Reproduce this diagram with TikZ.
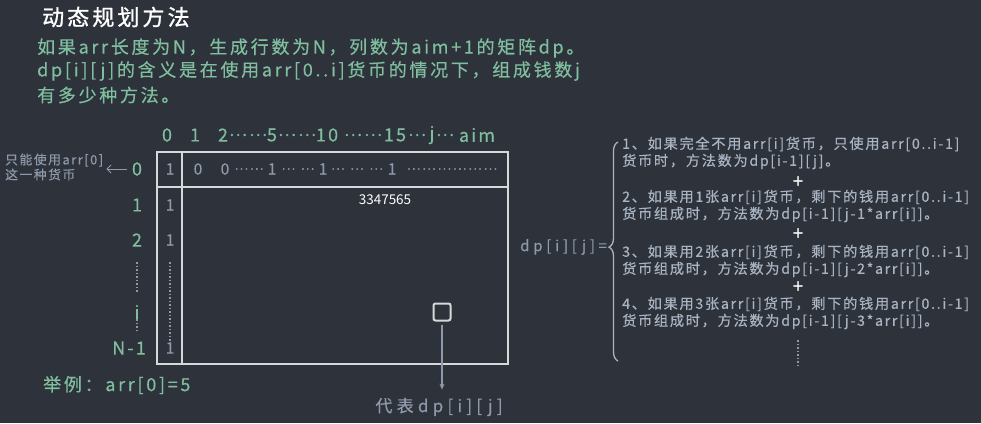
\documentclass[tikz,border=0pt]{standalone}
\usepackage{fontspec}
\usepackage{xcolor}
\usepackage{tikz}
\setmainfont{Noto Sans CJK SC}[LetterSpace=12, FakeBold=0.4]
\newfontfamily\titlefont{Noto Sans CJK SC}[LetterSpace=14, FakeBold=1.2]
\newfontfamily\parafont{Noto Sans CJK SC}[LetterSpace=15, FakeBold=0.4]
\newfontfamily\widefont{Noto Sans CJK SC}[LetterSpace=25, FakeBold=0.4]
\newfontfamily\plainfont{Noto Sans CJK SC}
\newcommand\el{{\fontsize{17}{17}\selectfont …}}
\newcommand\cel{{\fontsize{13}{13}\selectfont …}}
\definecolor{bgc}{HTML}{2E323A}
\definecolor{dpgreen}{HTML}{7FBE9F}
\definecolor{dpgray}{HTML}{8E9AAB}
\definecolor{ltgray}{HTML}{A9B4C3}
\definecolor{gridc}{HTML}{D6D8DA}
\usetikzlibrary{arrows.meta,positioning,calc,decorations.pathreplacing}

\begin{document}
\begin{tikzpicture}[x=1pt, y=-1pt,
    ttl/.style={text=white, font=\titlefont\fontsize{22}{26}\selectfont, inner sep=0pt, anchor=west},
    para/.style={text=dpgreen, font=\parafont\fontsize{18}{20}\selectfont, inner sep=0pt, anchor=west},
    idx/.style={text=dpgreen, font=\fontsize{18}{20}\selectfont, inner sep=0pt},
    cell/.style={text=dpgray, font=\fontsize{15.5}{18}\selectfont, inner sep=0pt},
    ruletext/.style={text=ltgray, font=\fontsize{14.2}{17}\selectfont, inner sep=0pt, anchor=west, align=left},
    plussign/.style={text=white, font=\titlefont\fontsize{18}{18}\selectfont, inner sep=0pt},
    vdots/.style={dpgray, line width=2pt, dash pattern=on 1.5pt off 2pt},
    grid/.style={gridc, line width=1.6pt}
]
    % Background
    \fill[bgc] (0,0) rectangle (981,423);
    \useasboundingbox (0,0) rectangle (981,423);

    % Title and text
    \node[ttl] (title) at (42,17) {动态规划方法};
    \node[para] (line1) at (37,48) {如果arr长度为N，生成行数为N，列数为aim+1的矩阵dp。};
    \node[para] (line2) at (37,71) {dp[i][j]的含义是在使用arr[0..i]货币的情况下，组成钱数j};
    \node[para] (line3) at (37,95) {有多少种方法。};

    % Column indices
    \foreach \hx/\htext in {167/0, 195/1, 223/2, 248/\el\el, 272/5, 297/\el\el, 327/10, 363/\el\el, 395/15, 417/\el, 432/j, 445/\el, 477/aim}
        \node[idx] (hd\hx) at (\hx,135) {\htext};

    % Matrix dp
    \draw[grid] (157,152) rectangle (508,364);
    \draw[grid] (157,187) -- (508,187);
    \draw[grid] (182,152) -- (182,364);

    % Row 0
    \node[cell] (c00) at (170,169) {1};
    \foreach \hx/\htext in {198/0, 225/0, 249/\cel\cel, 272/1, 298/\cel\ \cel, 323/1, 357/\cel\ \cel\ \cel, 392/1, 452/\cel\cel\cel\cel\cel\cel}
        \node[cell] (rz\hx) at (\hx,169) {\htext};

    % Column 0
    \node[cell] (c10) at (170,205) {1};
    \node[cell] (c20) at (170,240) {1};
    \node[cell] (cn0) at (170,348) {1};
    \draw[vdots] (170,262) -- (170,341);

    % Row indices
    \node[idx] (r0) at (137,169) {0};
    \node[idx] (r1) at (137,205) {1};
    \node[idx] (r2) at (137,240) {2};
    \node[idx] (ri) at (137,312) {i};
    \node[idx, anchor=east] (rn) at (146,348) {N-1};
    \draw[vdots] (137,262) -- (137,293);
    \draw[vdots] (137,319) -- (137,333);

    % Row 0 note
    \node[text=dpgray, font=\fontsize{12.8}{15}\selectfont, inner sep=0pt, anchor=west, align=left] (note) at (5,167) {只能使用arr[0]\\这一种货币};
    \draw[-{Straight Barb[length=4pt]}, dpgray, line width=1pt, shorten <=5pt, shorten >=3pt] (r0.west) -- (note.east |- r0.west);

    % Number in matrix
    \node[text=white, font=\plainfont\fontsize{13.5}{15}\selectfont, inner sep=0pt] (wm) at (385,200) {3347565};

    % Cell dp[i][j]
    \node[draw=gridc, line width=2pt, rounded corners=2pt, minimum size=17pt, inner sep=0pt] (sq) at (442,312) {};
    \node[text=dpgray, font=\widefont\fontsize{17}{20}\selectfont, inner sep=0pt] (rep) at (439,407) {代表dp[i][j]};
    \draw[-{Stealth[length=6pt, width=5pt]}, dpgray, line width=1.2pt, shorten <=3pt, shorten >=8pt] (sq.south) -- (sq.south |- rep.north);

    % Example
    \node[para] (eg) at (43,385) {举例：arr[0]=5};

    % dp[i][j] formula
    \node[text=dpgray, font=\widefont\fontsize{15}{17}\selectfont, inner sep=0pt, anchor=west] (dpeq) at (520,247) {dp[i][j]=};
    \draw[ltgray, line width=1.3pt, decorate, decoration={brace, amplitude=9pt, aspect=0.52}] (618,361) -- (618,142);

    \node[ruletext] (it1) at (622,153) {1、如果完全不用arr[i]货币，只使用arr[0..i-1]\\货币时，方法数为dp[i-1][j]。};
    \node[plussign] (p1) at (798,182) {+};
    \node[ruletext] (it2) at (622,206) {2、如果用1张arr[i]货币，剩下的钱用arr[0..i-1]\\货币组成时，方法数为dp[i-1][j-1*arr[i]]。};
    \node[plussign] (p2) at (798,234) {+};
    \node[ruletext] (it3) at (622,261) {3、如果用2张arr[i]货币，剩下的钱用arr[0..i-1]\\货币组成时，方法数为dp[i-1][j-2*arr[i]]。};
    \node[plussign] (p3) at (798,287) {+};
    \node[ruletext] (it4) at (622,313) {4、如果用3张arr[i]货币，剩下的钱用arr[0..i-1]\\货币组成时，方法数为dp[i-1][j-3*arr[i]]。};
    \draw[vdots] (798,340) -- (798,368);
\end{tikzpicture}
\end{document}
